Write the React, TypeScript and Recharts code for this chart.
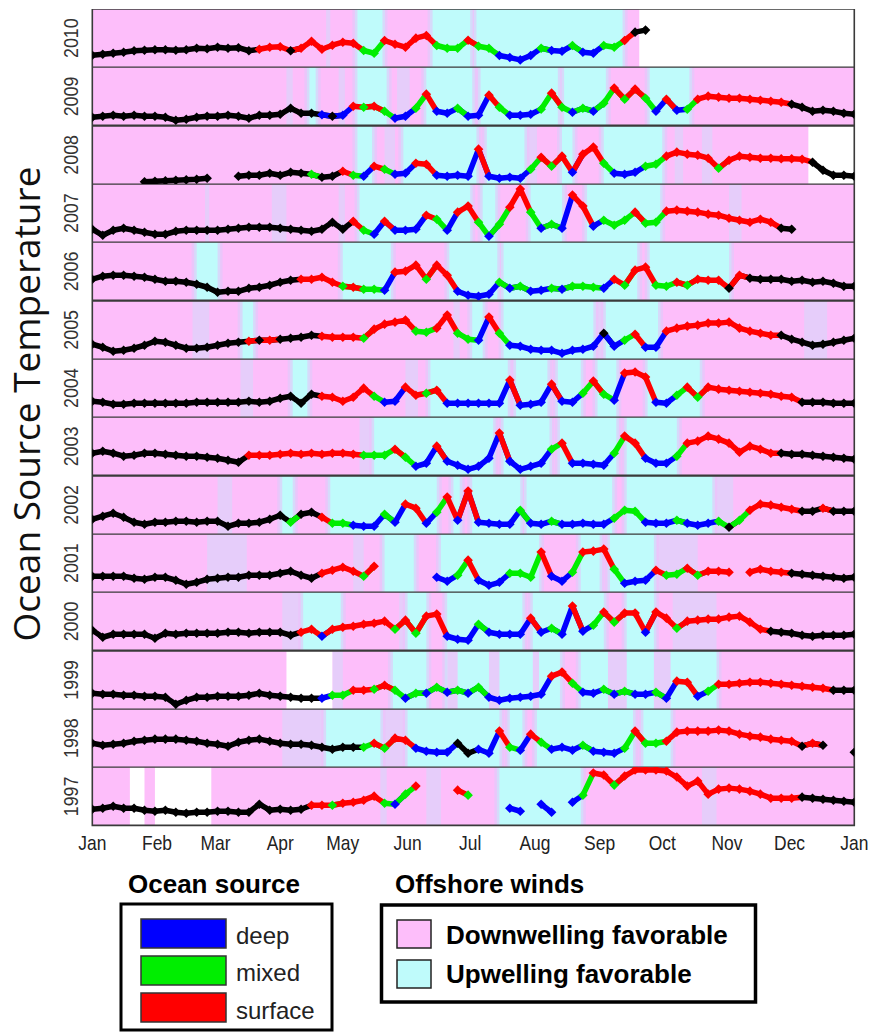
import React from 'react';
import { ComposedChart, Line, XAxis, YAxis, ReferenceArea } from 'recharts';

type Pt = [number | null, string];
type Band = [number, number, string];
const _: Pt = [null, '-'];

const years = [2010, 2009, 2008, 2007, 2006, 2005, 2004, 2003, 2002, 2001, 2000, 1999, 1998, 1997];

const sampleDays = [
  0, 5, 10, 15, 20, 25, 30, 35, 40, 45, 50, 55, 60, 65, 70, 75, 80, 85, 90, 95,
  100, 105, 110, 115, 120, 125, 130, 135, 140, 145, 150, 155, 160, 165, 170, 175, 180, 185, 190, 195,
  200, 205, 210, 215, 220, 225, 230, 235, 240, 245, 250, 255, 260, 265, 270, 275, 280, 285, 290, 295,
  300, 305, 310, 315, 320, 325, 330, 335, 340, 345, 350, 355, 360, 365,
];

const monthTicks = [0, 31, 59, 90, 120, 151, 181, 212, 243, 273, 304, 334, 365];
const monthLabels = ['Jan', 'Feb', 'Mar', 'Apr', 'May', 'Jun', 'Jul', 'Aug', 'Sep', 'Oct', 'Nov', 'Dec', 'Jan'];

// temperature (relative units) + ocean source: k = none, b = deep, g = mixed, r = surface
const t2010: Pt[] = [
  [12,'k'],[13,'k'],[14,'k'],[15,'k'],[16.5,'k'],[17,'k'],[17.5,'k'],[17.5,'k'],[17,'k'],[17.5,'k'],
  [19,'k'],[18.5,'k'],[20,'k'],[19,'k'],[19.5,'k'],[16.5,'k'],[18,'r'],[20,'r'],[20.5,'r'],[16.5,'k'],
  [19,'r'],[26,'r'],[18,'r'],[22,'r'],[25,'r'],[24,'r'],[16.7,'g'],[14,'g'],[26.7,'r'],[23,'r'],
  [20,'r'],[29,'r'],[31.7,'r'],[21.7,'g'],[19,'g'],[19,'g'],[27,'r'],[21,'g'],[19,'g'],[11.7,'b'],
  [9.7,'b'],[7.4,'b'],[11.7,'b'],[19,'g'],[16.7,'b'],[16,'b'],[21.7,'g'],[15,'b'],[14,'b'],[21.7,'g'],
  [20,'g'],[26.7,'r'],[35,'k'],[37,'k'],_,_,_,_,_,_,
  _,_,_,_,_,_,_,_,_,_,
  _,_,_,_,
];
const t2009: Pt[] = [
  [8,'k'],[9,'k'],[10,'k'],[9,'k'],[10,'k'],[9,'k'],[9,'k'],[8,'k'],[5,'k'],[6,'k'],
  [8,'k'],[9,'k'],[9,'k'],[10,'k'],[9,'k'],[7,'k'],[10,'k'],[10,'k'],[11,'k'],[17,'k'],
  [12,'k'],[12,'k'],[10.5,'b'],[9,'k'],[10,'b'],[19,'r'],[18,'g'],[19,'r'],[14,'g'],[7,'b'],
  [9,'b'],[17,'g'],[31,'r'],[14,'b'],[12,'b'],[17,'g'],[9,'b'],[10,'b'],[30,'r'],[18,'g'],
  [10,'b'],[10,'b'],[11,'b'],[16,'g'],[32,'r'],[18,'g'],[13,'b'],[17,'g'],[14,'b'],[22,'g'],
  [37,'r'],[26,'g'],[36,'r'],[27,'g'],[14,'b'],[26,'r'],[15,'b'],[16,'g'],[26,'r'],[29,'r'],
  [28,'r'],[27,'r'],[27,'r'],[26,'r'],[25,'r'],[24,'r'],[23,'r'],[21,'k'],[18,'k'],[14,'k'],
  [15,'k'],[14,'k'],[12,'k'],[11,'k'],
];
const t2008: Pt[] = [
  _,_,_,_,_,[2.5,'k'],[3,'k'],[3.5,'k'],[4,'k'],[4.5,'k'],
  [5,'k'],[6,'k'],_,_,[8,'k'],[9,'k'],[9,'k'],[11,'k'],[9,'k'],[12,'k'],
  [11,'k'],[10,'g'],[7,'k'],[8,'k'],[13,'r'],[9,'g'],[8,'b'],[18,'r'],[15,'g'],[10,'b'],
  [11,'b'],[21,'r'],[20,'r'],[9,'b'],[8,'b'],[9,'b'],[8,'b'],[35,'r'],[8,'b'],[6,'b'],
  [7,'b'],[6,'b'],[15,'g'],[27,'r'],[18,'g'],[28,'r'],[12,'b'],[30,'r'],[37,'r'],[21,'g'],
  [11,'b'],[10,'b'],[12,'b'],[18,'g'],[20,'g'],[28,'r'],[32,'r'],[30,'r'],[29,'r'],[26,'r'],
  [16,'g'],[24,'r'],[28,'r'],[27,'r'],[26,'r'],[26,'r'],[25.5,'r'],[25.5,'r'],[25,'r'],[22,'k'],
  [14,'k'],[9,'k'],[9,'k'],[8,'k'],
];
const t2007: Pt[] = [
  [13,'k'],[7,'k'],[12,'k'],[14,'k'],[12,'k'],[10,'k'],[8,'k'],[8,'k'],[11,'k'],[12,'k'],
  [12,'k'],[12,'k'],[12,'k'],[13,'k'],[14,'k'],[15,'k'],[15,'k'],[15,'k'],[14,'k'],[13,'k'],
  [12,'k'],[11,'k'],[13,'k'],[20,'k'],[13,'k'],[21,'r'],[12,'g'],[8,'b'],[21,'r'],[12,'b'],
  [12,'b'],[13,'b'],[27,'r'],[23,'g'],[12,'b'],[30,'r'],[36,'r'],[20,'g'],[6,'b'],[18,'g'],
  [35,'r'],[53,'r'],[30,'g'],[14,'b'],[18,'g'],[14,'b'],[47,'r'],[36,'r'],[16,'b'],[22,'g'],
  [17,'g'],[22,'g'],[30,'r'],[19,'g'],[20,'g'],[31,'r'],[32,'r'],[31,'r'],[30,'r'],[28,'r'],
  [27,'r'],[24,'r'],[22,'r'],[20,'r'],[23,'r'],[20,'r'],[14,'k'],[13,'k'],_,_,
  _,_,_,_,
];
const t2006: Pt[] = [
  [21,'k'],[24,'k'],[25,'k'],[25,'k'],[24,'k'],[23,'k'],[21,'k'],[19,'k'],[19,'k'],[18,'k'],
  [16,'k'],[13,'k'],[8,'k'],[9,'k'],[9,'k'],[12,'k'],[13,'k'],[15,'k'],[18,'k'],[20,'k'],
  [21,'r'],[21,'r'],[23,'r'],[18,'r'],[14,'g'],[13,'r'],[11,'g'],[11,'g'],[10,'b'],[28,'r'],
  [29,'r'],[35,'r'],[21,'g'],[35,'r'],[25,'r'],[9,'b'],[5,'b'],[4,'b'],[6,'b'],[18,'g'],
  [12,'b'],[14,'g'],[9,'b'],[10,'b'],[12,'g'],[11,'b'],[14,'g'],[14,'g'],[13,'g'],[12,'b'],
  [21,'r'],[15,'g'],[30,'r'],[33,'r'],[15,'g'],[14,'g'],[18,'r'],[15,'g'],[21,'r'],[20,'r'],
  [20,'r'],[12,'k'],[25,'r'],[22,'k'],[21,'k'],[21,'k'],[21,'k'],[19,'k'],[20,'k'],[18,'k'],
  [19,'k'],[17,'k'],[14,'k'],[14,'k'],
];
const t2005: Pt[] = [
  [15,'k'],[12,'k'],[8,'k'],[9,'k'],[11,'k'],[14,'k'],[18,'k'],[17,'k'],[14,'k'],[11,'k'],
  [11,'k'],[12,'k'],[14,'k'],[16,'k'],[17,'k'],[18,'r'],[19,'k'],[19,'r'],[20,'k'],[21,'k'],
  [22,'k'],[24,'k'],[23,'r'],[22,'r'],[22,'r'],[22,'r'],[21,'g'],[30,'r'],[35,'r'],[37,'r'],
  [39,'r'],[28,'g'],[27,'g'],[31,'r'],[44,'r'],[26,'g'],[20,'g'],[19,'b'],[42,'r'],[26,'g'],
  [14,'b'],[13,'b'],[10,'b'],[9,'b'],[9,'b'],[6,'b'],[9,'b'],[10,'b'],[13,'b'],[26,'k'],
  [13,'b'],[19,'g'],[25,'r'],[12,'b'],[12,'b'],[28,'r'],[31,'r'],[33,'r'],[34,'r'],[36,'r'],
  [36,'r'],[37,'r'],[31,'r'],[28,'r'],[26,'r'],[24,'r'],[24,'k'],[20,'k'],[17,'k'],[14,'k'],
  [15,'k'],[17,'k'],[19,'k'],[21,'k'],
];
const t2004: Pt[] = [
  [16,'k'],[15,'k'],[13,'k'],[13,'k'],[14,'k'],[14,'k'],[14,'k'],[14,'k'],[14,'k'],[14,'k'],
  [15,'k'],[15,'k'],[15,'k'],[15,'k'],[15,'k'],[16,'k'],[15,'k'],[16,'k'],[19,'k'],[21,'k'],
  [14,'k'],[23,'k'],[21,'r'],[20,'r'],[16,'r'],[20,'r'],[29,'r'],[21,'g'],[15,'b'],[16,'b'],
  [30,'r'],[22,'r'],[24,'g'],[27,'r'],[14,'b'],[14,'b'],[14,'b'],[14,'b'],[14,'b'],[14,'b'],
  [37,'r'],[12,'b'],[13,'b'],[15,'b'],[33,'r'],[16,'b'],[15,'b'],[24,'g'],[36,'r'],[23,'g'],
  [17,'b'],[44,'r'],[45,'r'],[40,'r'],[15,'b'],[14,'b'],[22,'g'],[30,'r'],[20,'g'],[30,'r'],
  [28,'r'],[27,'r'],[26,'r'],[25,'r'],[24,'r'],[23,'r'],[21,'r'],[20,'r'],[15,'k'],[15,'k'],
  [15,'k'],[14,'k'],[14,'k'],[14,'k'],
];
const t2003: Pt[] = [
  [22,'k'],[24,'k'],[22,'k'],[19,'k'],[20,'k'],[22,'k'],[22,'k'],[21,'k'],[20,'k'],[19,'k'],
  [19,'k'],[18,'k'],[17,'k'],[15,'k'],[13,'k'],[20,'r'],[20,'r'],[20,'r'],[21,'r'],[22,'r'],
  [21,'r'],[22,'r'],[21,'r'],[22,'r'],[22,'r'],[21,'r'],[20,'g'],[20,'g'],[20,'g'],[26,'r'],
  [18,'g'],[9,'b'],[12,'b'],[29,'r'],[14,'b'],[10,'b'],[6,'b'],[9,'b'],[17,'b'],[42,'r'],
  [14,'b'],[6,'b'],[9,'b'],[12,'b'],[26,'g'],[32,'r'],[12,'b'],[12,'b'],[11,'b'],[10,'b'],
  [22,'g'],[39,'r'],[32,'r'],[17,'b'],[12,'b'],[12,'b'],[19,'g'],[32,'r'],[34,'r'],[39,'r'],
  [36,'r'],[32,'r'],[23,'r'],[29,'r'],[26,'r'],[22,'r'],[22,'k'],[21,'k'],[21,'k'],[20,'k'],
  [19,'k'],[18,'k'],[17,'k'],[16,'k'],
];
const t2002: Pt[] = [
  [15,'k'],[18,'k'],[21,'k'],[17,'k'],[12,'k'],[10,'k'],[12,'k'],[12,'k'],[13,'k'],[13,'k'],
  [12,'k'],[13,'k'],[13,'k'],[8,'k'],[11,'k'],[11,'k'],[12,'k'],[15,'k'],[19,'k'],[12,'g'],
  [20,'k'],[22,'k'],[17,'r'],[11,'g'],[11,'g'],[9,'b'],[8,'b'],[8,'b'],[20,'g'],[12,'b'],
  [30,'r'],[26,'r'],[11,'b'],[22,'g'],[37,'r'],[14,'b'],[43,'r'],[12,'b'],[11,'b'],[10,'b'],
  [10,'b'],[24,'g'],[11,'b'],[10,'b'],[13,'g'],[10,'b'],[10,'b'],[11,'b'],[10,'b'],[10,'b'],
  [16,'g'],[24,'g'],[23,'g'],[12,'b'],[11,'b'],[11,'b'],[14,'g'],[11,'b'],[9,'b'],[11,'b'],
  [13,'g'],[7,'k'],[14,'g'],[24,'r'],[30,'r'],[29,'r'],[27,'r'],[25,'r'],[23,'k'],[23,'k'],
  [26,'r'],[23,'k'],[23,'k'],[23,'k'],
];
const t2001: Pt[] = [
  [16,'k'],[16,'k'],[16,'k'],[16,'k'],[14,'k'],[13,'k'],[15,'k'],[15,'k'],[12,'k'],[8,'k'],
  [10,'k'],[13,'k'],[14,'k'],[15,'k'],[15,'k'],[17,'k'],[17,'k'],[17,'k'],[19,'k'],[21,'k'],
  [17,'k'],[14,'k'],[19,'r'],[22,'r'],[25,'r'],[21,'r'],[16,'g'],[26,'r'],_,_,
  _,_,_,[15,'b'],[11,'b'],[17,'g'],[32,'r'],[12,'b'],[7,'b'],[10,'b'],
  [19,'g'],[19,'g'],[15,'g'],[40,'r'],[16,'b'],[11,'b'],[20,'g'],[40,'r'],[41,'r'],[43,'r'],
  [23,'g'],[9,'b'],[11,'b'],[12,'b'],[22,'r'],[17,'g'],[18,'g'],[24,'r'],[17,'g'],[21,'r'],
  [21,'r'],[20,'r'],_,[20,'r'],[23,'r'],[21,'r'],[20,'r'],[19,'k'],[18,'k'],[17,'k'],
  [16,'k'],[15,'k'],[14,'k'],[15,'k'],
];
const t2000: Pt[] = [
  [20,'k'],[13,'k'],[16,'k'],[16,'k'],[16,'k'],[16,'k'],[12,'k'],[17,'k'],[16,'k'],[17,'k'],
  [17,'k'],[17,'k'],[17,'k'],[18,'k'],[18,'k'],[17,'k'],[18,'k'],[18,'k'],[18,'k'],[15,'k'],
  [18,'r'],[21,'r'],[14,'b'],[21,'r'],[23,'r'],[24,'r'],[26,'r'],[27,'r'],[29,'r'],[21,'g'],
  [30,'r'],[17,'g'],[34,'r'],[36,'r'],[14,'b'],[11,'b'],[10,'b'],[26,'g'],[18,'b'],[16,'b'],
  [16,'b'],[16,'b'],[32,'r'],[18,'b'],[22,'g'],[16,'b'],[44,'r'],[19,'b'],[25,'g'],[38,'r'],
  [28,'g'],[37,'r'],[37,'r'],[18,'b'],[38,'r'],[32,'r'],[22,'g'],[29,'r'],[30,'r'],[31,'r'],
  [31,'r'],[33,'r'],[34,'r'],[28,'r'],[21,'r'],[19,'k'],[18,'k'],[17,'k'],[15,'k'],[14,'k'],
  [15,'k'],[15,'k'],[15,'k'],[16,'k'],
];
const t1999: Pt[] = [
  [16,'k'],[15,'k'],[15,'k'],[14,'k'],[14,'k'],[13,'k'],[13,'k'],[12,'k'],[5,'k'],[9,'k'],
  [12,'k'],[12,'k'],[13,'k'],[13,'k'],[13,'k'],[14,'k'],[16,'k'],[14,'k'],[13,'k'],[12,'k'],
  [11,'k'],[11,'k'],[11,'b'],[14,'g'],[14,'g'],[19,'r'],[19,'r'],[20,'g'],[24,'r'],[19,'g'],
  [11,'b'],[16,'g'],[16,'b'],[22,'g'],[17,'b'],[19,'g'],[16,'b'],[22,'g'],[12,'b'],[9,'b'],
  [11,'b'],[12,'b'],[13,'b'],[15,'b'],[33,'r'],[37,'r'],[26,'g'],[17,'b'],[16,'b'],[20,'g'],
  [15,'b'],[18,'g'],[15,'b'],[15,'b'],[17,'g'],[11,'b'],[28,'r'],[27,'r'],[13,'b'],[18,'g'],
  [25,'r'],[25,'r'],[26,'r'],[27,'r'],[27,'r'],[26,'r'],[25,'r'],[24,'r'],[23,'r'],[22,'r'],
  [21,'r'],[19,'k'],[19,'k'],[19,'k'],
];
const t1998: Pt[] = [
  [24,'k'],[22,'k'],[23,'k'],[24,'k'],[26,'k'],[27,'k'],[28,'k'],[28,'k'],[28,'k'],[27,'k'],
  [26,'k'],[24,'k'],[23,'k'],[21,'k'],[25,'k'],[27,'k'],[28,'k'],[26,'k'],[24,'k'],[23,'k'],
  [23,'k'],[22,'k'],[20,'k'],[18,'k'],[20,'k'],[20,'k'],[20,'g'],[24,'r'],[19,'g'],[29,'r'],
  [27,'r'],[19,'b'],[16,'b'],[15,'b'],[15,'b'],[24,'k'],[14,'k'],[18,'b'],[14,'b'],[36,'r'],
  [20,'g'],[17,'b'],[33,'r'],[25,'g'],[18,'b'],[20,'b'],[17,'b'],[22,'g'],[16,'b'],[15,'b'],
  [14,'b'],[19,'g'],[36,'r'],[24,'g'],[24,'g'],[26,'r'],[35,'r'],[36,'r'],[36,'r'],[36,'r'],
  [37,'r'],[36,'r'],[33,'r'],[31,'r'],[30,'r'],[28,'r'],[27,'r'],[26,'r'],[21,'k'],[24,'r'],
  [22,'k'],_,_,[15,'k'],
];
const t1997: Pt[] = [
  [16,'k'],[17,'k'],[19,'k'],[17,'k'],[17,'k'],[15,'k'],[14,'k'],[15,'k'],[13,'k'],[12,'k'],
  [13,'k'],[13,'k'],[14,'k'],[14,'k'],[13,'k'],[13,'k'],[21,'k'],[15,'k'],[16,'k'],[15,'k'],
  [16,'k'],[20,'r'],[20,'r'],[20,'g'],[22,'r'],[23,'r'],[25,'r'],[29,'r'],[22,'g'],[21,'b'],
  [31,'g'],[39,'r'],_,_,_,[35,'r'],[30,'g'],_,_,_,
  [17,'b'],[14,'b'],_,[21,'b'],[13,'b'],_,[23,'b'],[30,'g'],[52,'r'],[50,'r'],
  [40,'g'],[49,'r'],[55,'r'],[55,'r'],[55,'r'],[54,'r'],[48,'r'],[39,'r'],[44,'r'],[31,'r'],
  [36,'r'],[37,'r'],[36,'r'],[34,'r'],[31,'r'],[27,'r'],[27,'r'],[27,'r'],[28,'k'],[27,'k'],
  [26,'k'],[25,'k'],[24,'k'],[23,'k'],
];

// wind regime bands in day-of-year: c = upwelling, l = mixed/transition, w = no data
const b2010: Band[] = [[112,114,'l'],[127,139,'c'],[163,181,'c'],[181,184,'l'],[184,254,'c'],[262,365,'w']];
const b2009: Band[] = [[93,96,'l'],[104,107,'c'],[118,121,'l'],[127,141,'c'],[146,152,'l'],[160,182,'c'],[182,186,'l'],[186,223,'c'],[223,226,'l'],[226,246,'c'],[267,286,'c']];
const b2008: Band[] = [[127,134,'c'],[140,145,'l'],[149,184,'c'],[189,207,'c'],[207,213,'l'],[225,230,'c'],[245,273,'c'],[279,283,'l'],[292,297,'l'],[343,365,'w']];
const b2007: Band[] = [[54,56,'l'],[86,93,'l'],[118,121,'l'],[128,181,'c'],[187,193,'c'],[210,225,'c'],[237,272,'c'],[305,311,'l']];
const b2006: Band[] = [[48,50,'l'],[50,60,'c'],[120,143,'c'],[170,171,'l'],[171,194,'c'],[194,197,'l'],[197,261,'c'],[267,305,'c']];
const b2005: Band[] = [[48,56,'l'],[72,77,'c'],[173,176,'l'],[182,187,'c'],[197,240,'c'],[240,246,'l'],[246,271,'c'],[341,352,'l']];
const b2004: Band[] = [[71,77,'l'],[96,103,'c'],[150,156,'l'],[162,199,'c'],[203,218,'c'],[223,234,'c'],[242,251,'c'],[266,291,'c']];
const b2003: Band[] = [[128,135,'l'],[135,192,'c'],[197,219,'c'],[224,251,'c'],[256,280,'c']];
const b2002: Band[] = [[60,67,'l'],[91,96,'c'],[114,165,'c'],[173,176,'c'],[182,205,'c'],[208,249,'c'],[256,297,'c'],[297,307,'l']];
const b2001: Band[] = [[55,74,'l'],[125,130,'l'],[140,154,'c'],[167,214,'c'],[234,243,'c'],[248,269,'c'],[269,290,'l']];
const b2000: Band[] = [[91,101,'l'],[101,119,'c'],[147,151,'l'],[151,160,'c'],[170,206,'c'],[211,245,'c'],[256,269,'c'],[278,299,'l']];
const b1999: Band[] = [[93,115,'w'],[115,120,'l'],[144,160,'c'],[170,224,'c'],[234,299,'c'],[170,175,'l'],[190,195,'l'],[211,214,'l'],[247,256,'l'],[269,277,'l']];
const b1998: Band[] = [[91,112,'l'],[112,138,'c'],[138,151,'l'],[151,195,'c'],[200,206,'c'],[213,259,'c'],[264,277,'c']];
const b1997: Band[] = [[18,25,'w'],[30,57,'w'],[138,141,'l'],[160,167,'l'],[195,234,'c'],[292,299,'l']];

const seriesByYear: Record<number, Pt[]> = {
  2010: t2010, 2009: t2009, 2008: t2008, 2007: t2007, 2006: t2006, 2005: t2005, 2004: t2004,
  2003: t2003, 2002: t2002, 2001: t2001, 2000: t2000, 1999: t1999, 1998: t1998, 1997: t1997,
};
const bandsByYear: Record<number, Band[]> = {
  2010: b2010, 2009: b2009, 2008: b2008, 2007: b2007, 2006: b2006, 2005: b2005, 2004: b2004,
  2003: b2003, 2002: b2002, 2001: b2001, 2000: b2000, 1999: b1999, 1998: b1998, 1997: b1997,
};

const SOURCES = ['k', 'b', 'g', 'r'];
const sourceColor: Record<string, string> = { k: '#000000', b: '#0000FF', g: '#00EE00', r: '#FF0000' };
const PINK = '#FDBEFA';
const CYAN = '#BFFBFB';
const FRINGE_OUT = '#EAC6FA';
const FRINGE_IN = '#D6DAFA';
const LAV = '#E6CDFA';
const PANEL_H = 58.33;
const FONT = "'Liberation Sans', Arial, Helvetica, sans-serif";

function buildRows(pts: Pt[]) {
  return pts.map((p, i) => {
    const row: Record<string, any> = { day: sampleDays[i], src: p[1] };
    const prev = i > 0 ? pts[i - 1] : null;
    SOURCES.forEach((c) => {
      const own = p[0] !== null && p[1] === c;
      const tail = p[0] !== null && prev !== null && prev[0] !== null && prev[1] === c;
      row[c] = own || tail ? p[0] : null;
    });
    return row;
  });
}

const diamond = (c: string) => (props: any) => {
  const { cx, cy, payload, index } = props;
  const key = `dm-${c}-${index}`;
  if (cx == null || cy == null || !payload || payload.src !== c || payload[c] == null) return <g key={key} />;
  const r = 4.8;
  return (
    <polygon
      key={key}
      points={`${cx},${cy - r} ${cx + r},${cy} ${cx},${cy + r} ${cx - r},${cy}`}
      fill={sourceColor[c]}
    />
  );
};

const MonthTick = (props: any) => {
  const { x, y, payload } = props;
  const idx = monthTicks.indexOf(payload.value);
  return (
    <g transform={`translate(${x},${y + 17})`}>
      <text textAnchor="middle" transform="scale(0.85,1)" fontSize={20.5} fontFamily={FONT} fill="#222">
        {monthLabels[idx]}
      </text>
    </g>
  );
};

function Panel({ year, last }: { year: number; last: boolean }) {
  const rows = buildRows(seriesByYear[year]);
  const bands = bandsByYear[year];
  const ups = bands.filter((b) => b[2] === 'c');
  return (
    <ComposedChart
      width={869}
      height={last ? PANEL_H + 40 : PANEL_H}
      data={rows}
      margin={{ top: 0, right: 14.7, bottom: 0, left: 92.3 }}
    >
      <XAxis
        type="number"
        dataKey="day"
        domain={[0, 365]}
        allowDataOverflow
        hide={!last}
        ticks={monthTicks}
        interval={0}
        tickLine={false}
        axisLine={false}
        height={40}
        tick={<MonthTick />}
      />
      <YAxis type="number" domain={[0, 58]} allowDataOverflow hide />
      <ReferenceArea x1={0} x2={365} fill={PINK} fillOpacity={1} stroke="none" />
      {bands.filter((b) => b[2] === 'l').map((b, i) => (
        <ReferenceArea key={`l${i}`} x1={b[0]} x2={b[1]} fill={LAV} fillOpacity={1} stroke="none" />
      ))}
      {ups.map((b, i) => (
        <ReferenceArea key={`fo${i}`} x1={Math.max(0, b[0] - 2.4)} x2={Math.min(365, b[1] + 2.4)} fill={FRINGE_OUT} fillOpacity={1} stroke="none" />
      ))}
      {ups.map((b, i) => (
        <ReferenceArea key={`fi${i}`} x1={Math.max(0, b[0] - 1.2)} x2={Math.min(365, b[1] + 1.2)} fill={FRINGE_IN} fillOpacity={1} stroke="none" />
      ))}
      {ups.map((b, i) => (
        <ReferenceArea key={`c${i}`} x1={b[0]} x2={b[1]} fill={CYAN} fillOpacity={1} stroke="none" />
      ))}
      {year === 1999 && bands.filter((b) => b[2] === 'l' && b[0] > 150).map((b, i) => (
        <ReferenceArea key={`l2${i}`} x1={b[0]} x2={b[1]} fill={LAV} fillOpacity={1} stroke="none" />
      ))}
      {bands.filter((b) => b[2] === 'w').map((b, i) => (
        <ReferenceArea key={`w${i}`} x1={b[0]} x2={b[1]} fill="#FFFFFF" fillOpacity={1} stroke="none" />
      ))}
      {SOURCES.map((c) => (
        <Line
          key={c}
          type="linear"
          dataKey={c}
          stroke={sourceColor[c]}
          strokeWidth={5.5}
          strokeLinejoin="round"
          strokeLinecap="round"
          dot={diamond(c)}
          activeDot={false}
          connectNulls={false}
          isAnimationActive={false}
        />
      ))}
      <ReferenceArea x1={0} x2={365} y1={0} y2={58} fill="none" fillOpacity={0} stroke="#3a3a3a" strokeWidth={1.6} />
    </ComposedChart>
  );
}

export default function App() {
  return (
    <div style={{ position: 'absolute', left: 0, top: 0, width: 869, height: 1033, background: '#fff', overflow: 'hidden' }}>
      {years.map((yr, i) => (
        <div key={yr} style={{ position: 'absolute', left: 0, top: 9 + i * PANEL_H }}>
          <Panel year={yr} last={i === years.length - 1} />
        </div>
      ))}
      <svg width={869} height={1033} style={{ position: 'absolute', left: 0, top: 0, pointerEvents: 'none' }}>
        <text
          transform="translate(40,404) rotate(-90)"
          textAnchor="middle"
          fontFamily="'Open Sans', 'Noto Sans', sans-serif"
          fontSize={37}
          fill="#111"
        >
          Ocean Source Temperature
        </text>
        {years.map((yr, i) => (
          <text
            key={yr}
            transform={`translate(78,${9 + i * PANEL_H + PANEL_H / 2}) rotate(-90) scale(0.85,1)`}
            textAnchor="middle"
            fontFamily={FONT}
            fontSize={21}
            fill="#333"
          >
            {yr}
          </text>
        ))}
        <text x={128} y={893} fontFamily={FONT} fontWeight="bold" fontSize={26} fill="#000">Ocean source</text>
        <text x={395} y={893} fontFamily={FONT} fontWeight="bold" fontSize={26} fill="#000">Offshore winds</text>
        <rect x={121} y={904} width={211} height={126} fill="#fff" stroke="#000" strokeWidth={3} />
        <rect x={141} y={919} width={85} height={29} fill={sourceColor.b} stroke="#333" strokeWidth={1.5} />
        <rect x={141} y={956} width={85} height={29} fill={sourceColor.g} stroke="#333" strokeWidth={1.5} />
        <rect x={141} y={993} width={85} height={29} fill={sourceColor.r} stroke="#333" strokeWidth={1.5} />
        <text x={236} y={944} fontFamily={FONT} fontSize={24} fill="#222">deep</text>
        <text x={236} y={981} fontFamily={FONT} fontSize={24} fill="#222">mixed</text>
        <text x={236} y={1019} fontFamily={FONT} fontSize={24} fill="#222">surface</text>
        <rect x={381.5} y={905} width={374} height={97} fill="#fff" stroke="#000" strokeWidth={3.5} />
        <rect x={397} y={920} width={34} height={28} fill={PINK} stroke="#222" strokeWidth={1.5} />
        <rect x={397} y={960} width={34} height={28} fill={CYAN} stroke="#222" strokeWidth={1.5} />
        <text x={446} y={944} fontFamily={FONT} fontWeight="bold" fontSize={26} fill="#000">Downwelling favorable</text>
        <text x={446} y={983} fontFamily={FONT} fontWeight="bold" fontSize={26} fill="#000">Upwelling favorable</text>
      </svg>
    </div>
  );
}
